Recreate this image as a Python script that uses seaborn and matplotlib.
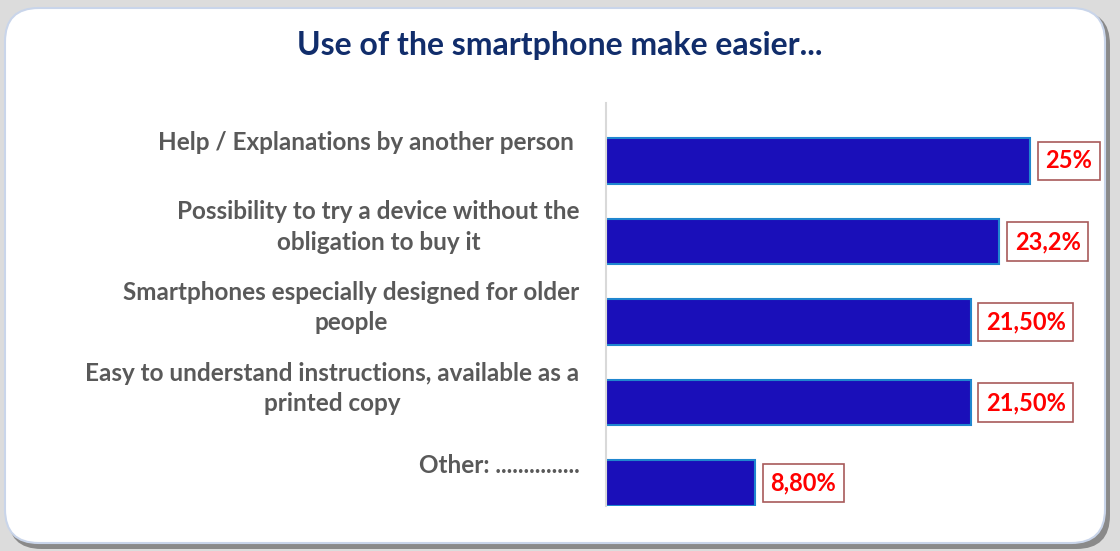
import matplotlib
matplotlib.use("Agg")
import matplotlib.pyplot as plt
from matplotlib.patches import FancyBboxPatch
from matplotlib.transforms import ScaledTranslation
import seaborn as sns
import pandas as pd

# Survey answers and their shares (%)
categories = [
    "Help / Explanations by another person ",
    "Possibility to try a device without the\nobligation to buy it",
    "Smartphones especially designed for older\npeople",
    "Easy to understand instructions, available as a\nprinted copy",
    "Other: ...............",
]
values = [25.0, 23.2, 21.5, 21.5, 8.8]
value_labels = ["25%", "23,2%", "21,50%", "21,50%", "8,80%"]
title = "Use of the smartphone make easier..."

df = pd.DataFrame({"category": categories, "share": values})

sns.set_theme(style="white")
plt.rcParams["font.family"] = ["Lato", "DejaVu Sans"]

W, H, DPI = 1120, 551, 100
fig = plt.figure(figsize=(W / DPI, H / DPI), dpi=DPI)
fig.patch.set_facecolor("#dcdcdc")

# Rounded card with a soft drop shadow
shadow = FancyBboxPatch((8 / W, 2 / H), 1102 / W, 538 / H,
                        boxstyle="round,pad=0,rounding_size=0.03",
                        transform=fig.transFigure, facecolor="#8a8a8a",
                        edgecolor="none", zorder=0, mutation_aspect=W / H)
card = FancyBboxPatch((5 / W, 8 / H), 1100 / W, 535 / H,
                      boxstyle="round,pad=0,rounding_size=0.03",
                      transform=fig.transFigure, facecolor="white",
                      edgecolor="#c9d5ea", linewidth=1.5, zorder=1,
                      mutation_aspect=W / H)
fig.patches.extend([shadow, card])

# Plot area: x from 606 px, y from 103 px to 506 px
left_px, right_px, top_px, bot_px = 606, 606 + 28 * 16.96, 103, 506
ax = fig.add_axes([left_px / W, (H - bot_px) / H,
                   (right_px - left_px) / W, (bot_px - top_px) / H])
ax.set_facecolor("none")
ax.set_zorder(2)

sns.barplot(data=df, x="share", y="category", orient="h", ax=ax,
            color="#1a0fb9", width=0.57, edgecolor="#1f86cf", linewidth=1.5,
            saturation=1)

ax.set_xlim(0, 28)
ax.set_ylim(4.285, -0.72)
ax.set_xlabel("")
ax.set_ylabel("")
ax.set_xticks([])
for s in ["top", "right", "bottom"]:
    ax.spines[s].set_visible(False)
ax.spines["left"].set_color("#d9d9d9")
ax.spines["left"].set_linewidth(1.5)

ax.tick_params(axis="y", length=0, pad=19)
shift = ScaledTranslation(0, 20 / DPI, fig.dpi_scale_trans)
for lab in ax.get_yticklabels():
    lab.set_fontsize(17.5)
    lab.set_fontweight("bold")
    lab.set_color("#595959")
    lab.set_multialignment("center")
    lab.set_linespacing(1.38)
    lab.set_transform(lab.get_transform() + shift)

# Value labels in boxed callouts just past each bar
for i, (v, txt) in enumerate(zip(values, value_labels)):
    ax.annotate(txt, xy=(v, i), xytext=(11, 0), textcoords="offset points",
                ha="left", va="center", fontsize=17, fontweight="bold",
                color="#ff0000",
                bbox=dict(boxstyle="square,pad=0.32", facecolor="white",
                          edgecolor="#a85a5a", linewidth=1.2))

fig.text(560 / W, 1 - 45 / H, title, ha="center", va="center",
         fontsize=23, fontweight="bold", color="#112d6b")

fig.savefig("out.png", dpi=DPI, facecolor=fig.get_facecolor())
